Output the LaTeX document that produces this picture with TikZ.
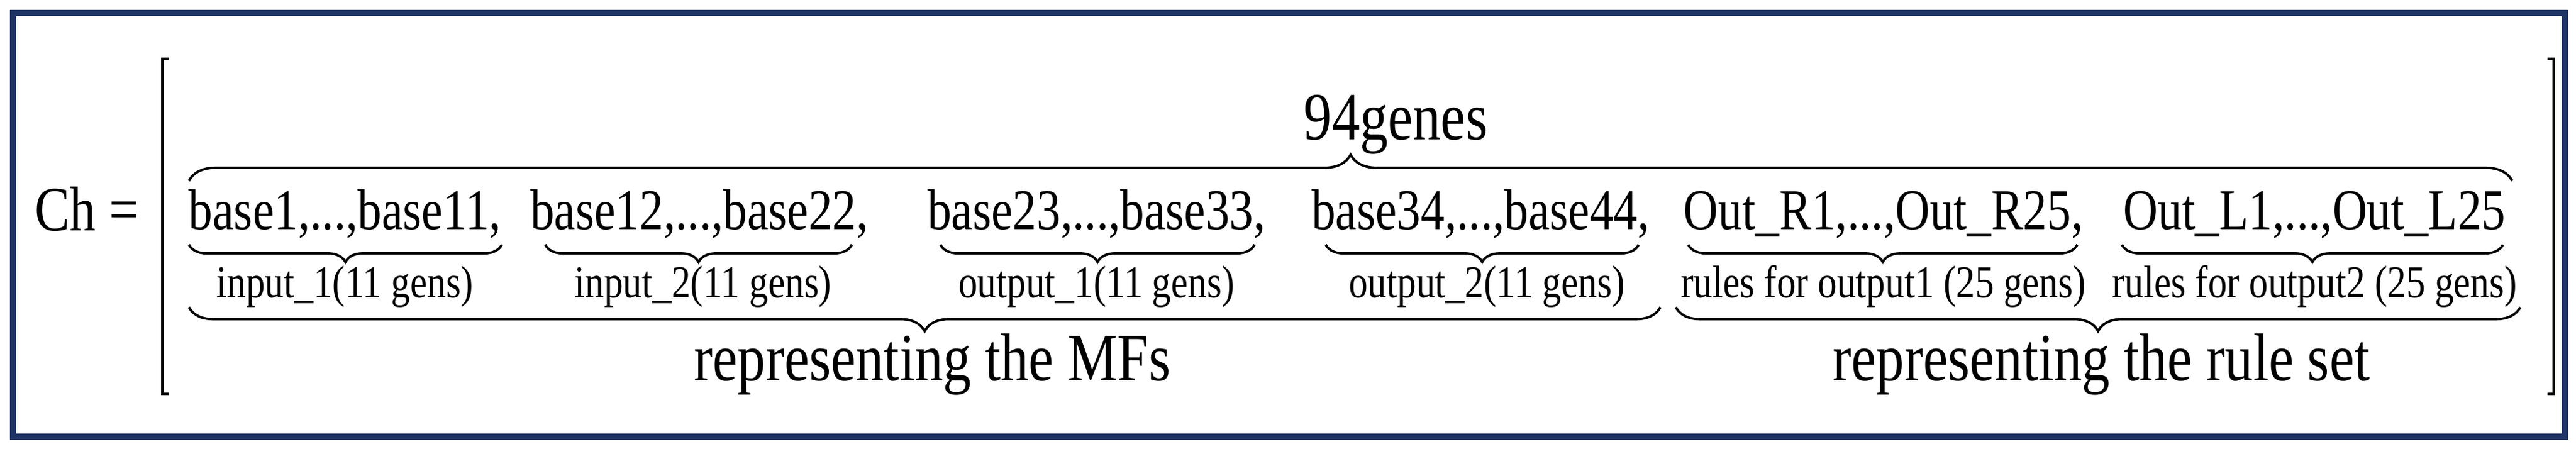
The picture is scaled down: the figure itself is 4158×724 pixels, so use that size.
\documentclass[tikz,border=0pt]{standalone}
\usepackage{fontspec}
\setmainfont{Liberation Serif}[FakeStretch=0.83]
\usetikzlibrary{decorations.pathreplacing}
\definecolor{navy}{RGB}{32,52,102}
\begin{document}
\begin{tikzpicture}[x=0.01cm,y=-0.01cm,
  brc/.style={decorate,decoration={brace,amplitude=#1},line width=1.1pt},
  brc/.default=12pt,
  big/.style={font=\fontsize{31}{34}\selectfont,inner sep=0pt},
  row/.style={font=\fontsize{26.5}{30}\selectfont,inner sep=0pt,anchor=base},
  lab/.style={font=\fontsize{21}{24}\selectfont,inner sep=0pt,anchor=base}]
\useasboundingbox (0,0) rectangle (4158,724);
\draw[navy,line width=2.6pt] (21,21) rectangle (4140,705);
\node[font=\fontsize{29}{32}\selectfont,inner sep=0pt,anchor=base] (ch) at (140,372) {Ch =};
\draw[line width=1pt] (272,95) -- (262,95) -- (262,636) -- (272,636);
\draw[line width=1pt] (4112,95) -- (4122,95) -- (4122,636) -- (4112,636);
% row
\node[row] (b1) at (557,370) {base1,...,base11,};
\node[row] (b2) at (1129,370) {base12,...,base22,};
\node[row] (b3) at (1770,370) {base23,...,base33,};
\node[row] (b4) at (2390,370) {base34,...,base44,};
\node[row] (r1) at (3040,370) {Out\_R1,...,Out\_R25,};
\node[row] (r2) at (3736,370) {Out\_L1,...,Out\_L25};
% top brace
\coordinate (tl) at (305,292); \coordinate (tr) at (4055,292);
\draw[brc=12pt] (tl) -- (tr);
\node[big,anchor=base] (g) at (2253,225) {94genes};
% small braces
\foreach \n/\a/\b in {s1/305/810,s2/880/1375,s3/1518/2025,s4/2140/2645,s5/2725/3353,s6/3425/4040}{
  \coordinate (\n l) at (\a,395); \coordinate (\n r) at (\b,395);
  \draw[brc=8pt] (\n r) -- (\n l);}
\node[lab] (l1) at (557,480) {input\_1(11 gens)};
\node[lab] (l2) at (1135,480) {input\_2(11 gens)};
\node[lab] (l3) at (1770,480) {output\_1(11 gens)};
\node[lab] (l4) at (2400,480) {output\_2(11 gens)};
\node[lab] (l5) at (3040,480) {rules for output1 (25 gens)};
\node[lab] (l6) at (3736,480) {rules for output2 (25 gens)};
% big bottom braces
\coordinate (ml) at (305,496); \coordinate (mr) at (2680,496);
\coordinate (nl) at (2705,496); \coordinate (nr) at (4068,496);
\draw[brc=11pt] (mr) -- (ml);
\draw[brc=11pt] (nr) -- (nl);
\node[big,anchor=base] (m) at (1505,614) {representing the MFs};
\node[big,anchor=base] (n) at (3392,614) {representing the rule set};
\end{tikzpicture}
\end{document}
